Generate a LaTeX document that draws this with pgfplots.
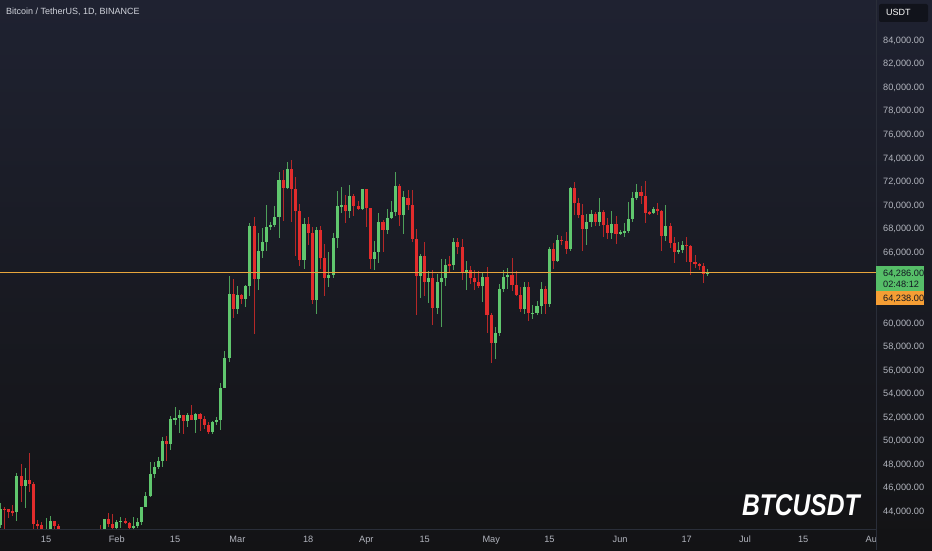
\documentclass[border=0pt]{standalone}
\usepackage{pgfplots}
\pgfplotsset{compat=1.18}
\usepackage{pgfplotstable}
\usepackage{fontspec}
\setmainfont{Liberation Sans}
\definecolor{bgtop}{RGB}{31,34,49}
\definecolor{bgbot}{RGB}{19,19,21}
\definecolor{upc}{RGB}{96,199,110}
\definecolor{dnc}{RGB}{226,44,44}
\definecolor{upw}{RGB}{78,160,90}
\definecolor{dnw}{RGB}{180,40,40}
\definecolor{lbl}{RGB}{178,181,190}
\definecolor{ttl}{RGB}{209,212,220}
\definecolor{sep}{RGB}{42,46,57}
\definecolor{pline}{RGB}{232,165,60}
\definecolor{gbox}{RGB}{86,190,104}
\definecolor{obox}{RGB}{245,158,52}
\definecolor{dtxt}{RGB}{19,23,34}
\pgfplotstableread{
d o h l c
0 42283 44184 42180 44179
1 44179 45879 44148 44946
2 44946 45500 40750 42845
3 42845 44729 42613 44151
4 44151 44357 42450 44145
5 44145 44214 43397 43968
6 43968 44500 43584 43929
7 43929 47248 43175 46951
8 46951 47972 44748 46110
9 46110 47695 44300 46632
10 46632 48969 45606 46314
11 46314 46498 41500 42893
12 42893 43257 42436 42842
13 42842 43080 41720 41732
14 41732 43400 41718 42511
15 42511 43578 42050 43137
16 43137 43198 42200 42776
17 42776 42930 40683 41327
18 41327 42196 40280 41659
19 41659 41872 41446 41696
20 41696 41881 41500 41580
21 41580 41689 39431 39568
22 39568 40129 38555 39897
23 39897 40555 39485 40084
24 40084 40288 39506 39961
25 39961 42246 39822 41823
26 41823 42200 41395 42120
27 42120 42842 41620 42031
28 42031 43305 41804 43300
29 43300 43838 42683 42946
30 42946 43744 42276 42582
31 42582 43285 41884 43082
32 43082 43488 42546 43200
33 43200 43380 42880 43011
34 43011 43119 42222 42582
35 42582 43494 42258 42708
36 42708 43399 42574 43098
37 43098 44396 42788 44349
38 44349 45614 44331 45288
39 45288 48200 45242 47132
40 47132 48170 46800 47751
41 47751 48592 47557 48299
42 48299 50334 47710 49917
43 49917 50368 48300 49699
44 49699 52043 49225 51795
45 51795 52816 51314 51880
46 51880 52572 50625 52124
47 52124 52163 50521 51642
48 51642 52377 51163 52137
49 52137 52985 51715 51774
50 51774 52366 50625 52258
51 52258 52371 50832 51849
52 51849 52065 50936 51288
53 51288 51551 50521 50744
54 50744 51698 50585 51568
55 51568 51958 51279 51728
56 51728 54910 50901 54476
57 54476 57588 54450 57037
58 57037 64000 56690 62432
59 62432 63676 60364 61130
60 61130 63114 60777 62387
61 62387 62433 61561 61987
62 61987 63230 61321 63113
63 63113 68499 62300 68245
64 68245 69000 59005 63724
65 63724 67637 62787 66074
66 66074 68029 65535 66823
67 66823 69990 66082 68124
68 68124 68541 67861 68313
69 68313 69887 68094 68955
70 68955 72800 67194 72078
71 72078 73000 68620 71452
72 71452 73650 71334 73072
73 73072 73777 68555 71387
74 71387 72357 65630 69499
75 69499 70043 64780 65300
76 65300 68904 64533 68393
77 68393 68956 66566 67609
78 67609 68124 61555 61937
79 61937 68100 60775 67840
80 67840 68240 64529 65501
81 65501 66650 62260 63796
82 63796 65999 63000 64037
83 64037 67622 63821 67211
84 67211 71150 66385 69880
85 69880 71561 69280 69988
86 69988 70880 68500 69456
87 69456 71729 68893 70744
88 70744 70913 69076 69893
89 69893 70355 69601 69645
90 69645 71366 69562 71333
91 71333 71342 68110 69702
92 69702 69708 64586 65446
93 65446 66914 64493 65980
94 65980 69291 65064 68508
95 68508 68725 66011 67837
96 67837 69629 67491 68896
97 68896 70327 68813 69360
98 69360 72797 69043 71620
99 71620 71758 68210 69146
100 69146 71172 67518 70631
101 70631 71305 69567 70006
102 70006 71256 66868 67116
103 67116 67932 60660 63924
104 63924 65840 62134 65661
105 65661 66868 62274 63419
106 63419 64355 61716 63793
107 63793 64486 59768 61277
108 61277 64125 60775 63470
109 63470 65419 59600 63818
110 63818 65419 63090 64941
111 64941 65700 64210 64926
112 64926 67233 64500 66837
113 66837 67200 65864 66407
114 66407 67075 63589 64276
115 64276 65275 62783 64481
116 64481 64789 63322 63755
117 63755 64499 62793 63419
118 63419 64362 62962 63113
119 63113 64228 61765 63841
120 63841 64735 59120 60636
121 60636 60830 56552 58254
122 58254 59602 56937 59123
123 59123 63320 58848 62889
124 62889 64494 62599 63891
125 63891 64646 62822 64031
126 64031 65500 62700 63161
127 63161 64390 62250 62334
128 62334 63015 60888 61187
129 61187 63421 60769 63049
130 63049 63469 60187 60792
131 60792 61490 60288 60793
132 60793 61818 60632 61448
133 61448 63450 60750 62901
134 62901 63102 60760 61552
135 61552 66444 61330 66256
136 66256 66752 64602 65231
137 65231 67459 65120 67051
138 67051 67400 66600 66940
139 66940 67700 65857 66278
140 66278 71515 66060 71446
141 71446 71980 69162 70136
142 70136 70623 68900 69122
143 69122 70041 66100 67929
144 67929 69250 66600 68526
145 68526 69562 68128 69265
146 69265 69420 68243 68518
147 68518 70600 68232 69394
148 69394 69590 67284 68296
149 68296 68909 67125 67578
150 67578 69500 67100 68364
151 68364 69036 66670 67491
152 67491 67900 67428 67706
153 67706 68460 67257 67751
154 67751 70280 67612 68804
155 68804 71063 68567 70567
156 70567 71758 70383 71082
157 71082 71625 70119 70757
158 70757 71997 68500 69342
159 69342 69520 69120 69305
160 69305 69850 69229 69648
161 69648 70195 69160 69508
162 69508 69569 66051 67321
163 67321 69999 66900 68243
164 68243 68449 66304 66756
165 66756 67294 65078 66011
166 66011 66895 65800 66191
167 66191 66963 65930 66639
168 66639 67298 65130 66490
169 66490 66556 64060 65140
170 65140 65727 64660 64960
171 64960 65100 64500 64828
172 64828 65070 63379 64096
173 64096 64525 63950 64286
}\btc
\begin{document}
\begin{tikzpicture}[x=1pt,y=1pt]
\useasboundingbox (0,0) rectangle (932,550);
\shade[top color=bgtop, bottom color=bgbot] (0,0) rectangle (932,550);
\begin{axis}[
  at={(0pt,550pt)}, anchor=north west,
  width=876pt, height=529pt, scale only axis,
  xmin=2.93, xmax=213.5, ymin=42488, ymax=87396,
  axis line style={draw=none}, major tick length=0pt,
  unbounded coords=discard,
  scaled y ticks=false, scaled x ticks=false,
  yticklabel pos=right,
  ytick={44000,46000,48000,50000,52000,54000,56000,58000,60000,66000,68000,70000,72000,74000,76000,78000,80000,82000,84000},
  /pgf/number format/.cd, fixed, fixed zerofill, precision=2, 1000 sep={,}, assume math mode=true,
  /pgfplots/.cd,
  yticklabel style={anchor=base west, inner sep=0pt, xshift=7pt, yshift=-3.3pt, font=\fontsize{9.2}{11}\selectfont, text=lbl},
  xtick={14,31,45,60,77,91,105,121,135,152,168,182,196,213},
  xticklabels={15,Feb,15,Mar,18,Apr,15,May,15,Jun,17,Jul,15,Aug},
  xticklabel style={anchor=base, inner sep=0pt, yshift=-13.5pt, font=\fontsize{9.2}{11}\selectfont, text=lbl},
  candle/.style={draw=none, mark=none, error bars/.cd, y dir=both, y explicit, error mark=none},
]
% wicks
\addplot[candle, error bar style={line width=0.9pt, draw=upw}]
  table[x=d, y expr={\thisrow{c}<\thisrow{o} ? nan : (\thisrow{h}+\thisrow{l})/2}, y error expr=(\thisrow{h}-\thisrow{l})/2]{\btc};
\addplot[candle, error bar style={line width=0.9pt, draw=dnw}]
  table[x=d, y expr={\thisrow{c}<\thisrow{o} ? (\thisrow{h}+\thisrow{l})/2 : nan}, y error expr=(\thisrow{h}-\thisrow{l})/2]{\btc};
% bodies
\addplot[candle, error bar style={line width=3.1pt, draw=upc}]
  table[x=d, y expr={\thisrow{c}<\thisrow{o} ? nan : (\thisrow{o}+\thisrow{c})/2}, y error expr={max(abs(\thisrow{c}-\thisrow{o})/2,40)}]{\btc};
\addplot[candle, error bar style={line width=3.1pt, draw=dnc}]
  table[x=d, y expr={\thisrow{c}<\thisrow{o} ? (\thisrow{o}+\thisrow{c})/2 : nan}, y error expr={max(abs(\thisrow{c}-\thisrow{o})/2,40)}]{\btc};
% last price line
\addplot[draw=pline, mark=none, line width=1pt] coordinates {(2.93,64286) (213.5,64286)};
\end{axis}
\fill[bgbot] (876,0) rectangle (932,21);
\draw[sep, line width=0.8pt] (876,0) -- (876,550);
\draw[sep, line width=0.6pt] (0,21) -- (876,21);
% title
\node[anchor=base west, inner sep=0pt, text=ttl, font=\fontsize{9}{11}\selectfont] at (6,535) {Bitcoin / TetherUS, 1D, BINANCE};
% USDT box
\fill[rounded corners=2pt, fill={rgb,255:red,17;green,19;blue,27}] (879,528) rectangle (928,546);
\node[anchor=base west, inner sep=0pt, text=white, font=\fontsize{9}{11}\selectfont] at (886,534) {USDT};
% price boxes
\fill[gbox] (876,259) rectangle (924,284);
\fill[obox] (876,245) rectangle (924,259);
\node[anchor=base west, inner sep=0pt, text=dtxt, font=\fontsize{9.2}{11}\selectfont] at (883,273.5) {64,286.00};
\node[anchor=base west, inner sep=0pt, text=dtxt, font=\fontsize{9.2}{11}\selectfont] at (883,262.5) {02:48:12};
\node[anchor=base west, inner sep=0pt, text=dtxt, font=\fontsize{9.2}{11}\selectfont] at (883,249) {64,238.00};
% watermark
\node[anchor=base west, inner sep=0pt, text=white, xscale=0.82, transform shape, font=\fontsize{30}{34}\bfseries\itshape\selectfont] at (742,35) {BTCUSDT};
\end{tikzpicture}
\end{document}
